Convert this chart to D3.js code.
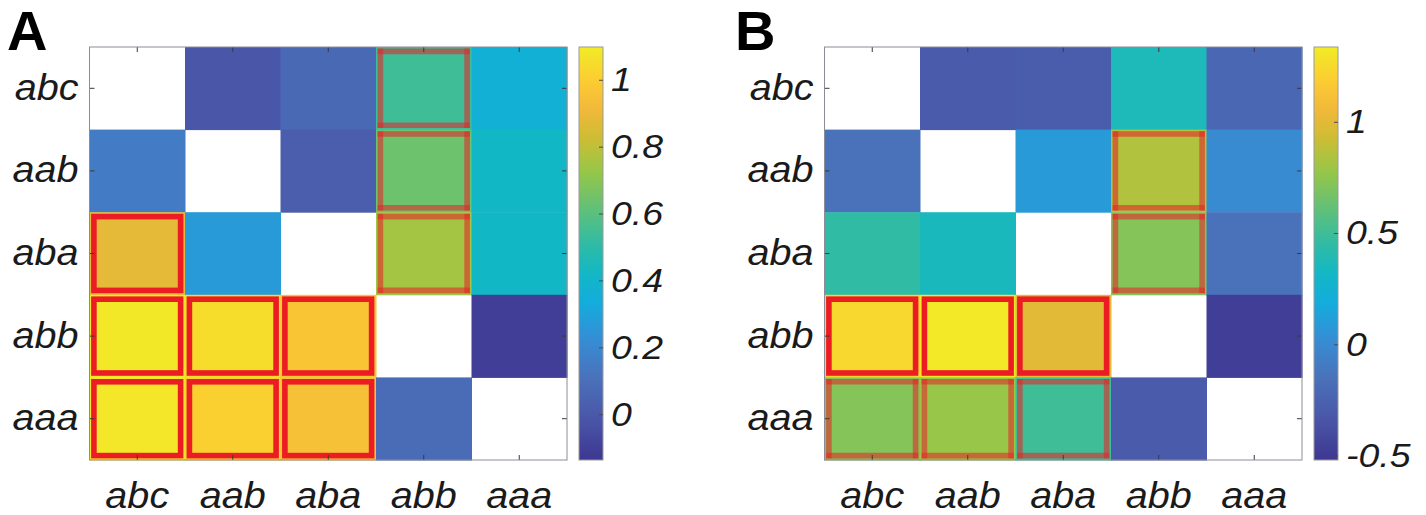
<!DOCTYPE html>
<html>
<head>
<meta charset="utf-8">
<script src="https://cdn.jsdelivr.net/npm/d3@7"></script>
<style>
  body { margin: 0; background: #fff; }
  svg { display: block; }
</style>
</head>
<body>
<div id="chart"></div>
<script>
// categories (rows top->bottom, columns left->right)
var cats = ["abc", "aab", "aba", "abb", "aaa"];

// panel A values, null = diagonal (blank)
var valsA = [
  [null, -0.01, 0.07, 0.54, 0.36],
  [0.15, null, 0.02, 0.64, 0.42],
  [0.88, 0.27, null, 0.75, 0.42],
  [1.085, 1.05, 0.97, null, -0.11],
  [1.08, 1.01, 0.95, 0.085, null]
];
// panel B values
var valsB = [
  [null, -0.30, -0.29, 0.37, -0.22],
  [-0.15, null, 0.09, 0.85, 0.0],
  [0.45, 0.35, null, 0.72, -0.15],
  [1.24, 1.32, 1.0, null, -0.48],
  [0.72, 0.78, 0.50, -0.30, null]
];
// outline marks: 0 none, 1 faint red, 2 solid red
var markA = [
  [0, 0, 0, 1, 0],
  [0, 0, 0, 1, 0],
  [2, 0, 0, 1, 0],
  [2, 2, 2, 0, 0],
  [2, 2, 2, 0, 0]
];
var markB = [
  [0, 0, 0, 0, 0],
  [0, 0, 0, 1, 0],
  [0, 0, 0, 1, 0],
  [2, 2, 2, 0, 0],
  [1, 1, 1, 0, 0]
];
var domA = [-0.137, 1.098];
var domB = [-0.52, 1.336];
var ticksA = [0, 0.2, 0.4, 0.6, 0.8, 1];
var ticksB = [-0.5, 0, 0.5, 1];

// parula-like colormap as printed
var cmapPos = [0, 0.10, 0.20, 0.30, 0.38, 0.45, 0.52, 0.60, 0.70, 0.78, 0.85, 0.91, 1];
var cmapCol = ["#3e3792", "#4a56a8", "#4a72bb", "#3390d6", "#14acdc", "#12b7c6", "#2ebba6",
               "#5cc07c", "#98c648", "#cdbd34", "#f2b83a", "#fcc934", "#f2ec26"];
var cmap = d3.scaleLinear().domain(cmapPos).range(cmapCol).interpolate(d3.interpolateRgb).clamp(true);

var W = 1426, H = 515;
var svg = d3.select("#chart").append("svg").attr("width", W).attr("height", H);

var defs = svg.append("defs");
var grad = defs.append("linearGradient").attr("id", "cbgrad")
  .attr("x1", 0).attr("y1", 1).attr("x2", 0).attr("y2", 0);
grad.selectAll("stop").data(d3.range(0, 1.0001, 0.02)).enter().append("stop")
  .attr("offset", function(d) { return d; })
  .attr("stop-color", function(d) { return cmap(d); });

var labFont = "'Liberation Sans', Arial, Helvetica, sans-serif";
var stretch = 1.1;

function stretchText(sel) {
  sel.each(function() {
    var w = this.getComputedTextLength();
    d3.select(this).attr("textLength", w * stretch).attr("lengthAdjust", "spacingAndGlyphs");
  });
}

function panel(opt) {
  var g = svg.append("g");
  var x = d3.scaleBand().domain(cats).range([opt.left, opt.left + 477.5]);
  var y = d3.scaleBand().domain(cats).range([47, 460]);
  var c = d3.scaleLinear().domain(opt.dom).range([0, 1]);

  var cells = [];
  opt.vals.forEach(function(row, i) {
    row.forEach(function(v, j) {
      cells.push({ r: cats[i], c: cats[j], v: v, m: opt.mark[i][j] });
    });
  });

  g.selectAll("rect.cell").data(cells.filter(function(d) { return d.v != null; }))
    .enter().append("rect").attr("class", "cell")
    .attr("x", function(d) { return x(d.c); })
    .attr("y", function(d) { return y(d.r); })
    .attr("width", x.bandwidth() + 0.5)
    .attr("height", y.bandwidth() + 0.5)
    .attr("fill", function(d) { return cmap(c(d.v)); });

  var ins = 4.4, sw = 5.6;
  // solid outlines
  g.selectAll("rect.sig").data(cells.filter(function(d) { return d.m == 2; }))
    .enter().append("rect").attr("class", "sig")
    .attr("x", function(d) { return x(d.c) + ins; })
    .attr("y", function(d) { return y(d.r) + ins; })
    .attr("width", x.bandwidth() - 2 * ins)
    .attr("height", y.bandwidth() - 2 * ins)
    .attr("fill", "none").attr("stroke", "#ec1c24").attr("stroke-width", sw);

  // faint outlines, four separate lines so the corners overlap darker
  cells.filter(function(d) { return d.m == 1; }).forEach(function(d) {
    var x0 = x(d.c) + ins, x1 = x(d.c) + x.bandwidth() - ins;
    var y0 = y(d.r) + ins, y1 = y(d.r) + y.bandwidth() - ins;
    var segs = [[x0, y0, x1, y0], [x1, y0, x1, y1], [x1, y1, x0, y1], [x0, y1, x0, y0]];
    g.selectAll(null).data(segs).enter().append("line")
      .attr("x1", function(s) { return s[0]; }).attr("y1", function(s) { return s[1]; })
      .attr("x2", function(s) { return s[2]; }).attr("y2", function(s) { return s[3]; })
      .attr("stroke", "#e6262a").attr("stroke-opacity", 0.58)
      .attr("stroke-width", sw).attr("stroke-linecap", "square");
  });

  // axes with inward ticks
  var yl = g.append("g").attr("transform", "translate(" + opt.left + ",0)")
    .call(d3.axisLeft(y).tickSize(-5).tickPadding(11));
  var xb = g.append("g").attr("transform", "translate(0,460)")
    .call(d3.axisBottom(x).tickSize(-5).tickPadding(22));
  var xt = g.append("g").attr("transform", "translate(0,47)")
    .call(d3.axisTop(x).tickSize(-5).tickFormat(""));
  var yr = g.append("g").attr("transform", "translate(" + (opt.left + 477.5) + ",0)")
    .call(d3.axisRight(y).tickSize(-5).tickFormat(""));
  [yl, xb, xt, yr].forEach(function(a) {
    a.select(".domain").remove();
    a.selectAll("line").attr("stroke", "#3a3a3a").attr("stroke-width", 1);
  });
  [yl, xb].forEach(function(a) {
    a.selectAll("text").attr("font-family", labFont).attr("font-style", "italic")
      .attr("font-size", 36).attr("fill", "#1a1a1a");
  });
  xb.selectAll("text").attr("dy", "0.71em");
  stretchText(yl.selectAll("text"));
  stretchText(xb.selectAll("text"));

  g.append("rect").attr("x", opt.left).attr("y", 47)
    .attr("width", 477.5).attr("height", 413)
    .attr("fill", "none").attr("stroke", "#8c8c98").attr("stroke-width", 1);

  // colorbar
  var cbx = opt.left + 489.5, cbw = 24;
  var cy = d3.scaleLinear().domain(opt.dom).range([460, 47]);
  g.append("rect").attr("x", cbx).attr("y", 47).attr("width", cbw).attr("height", 413)
    .attr("fill", "url(#cbgrad)").attr("stroke", "#9a9a9a").attr("stroke-width", 1);
  var ca = g.append("g").attr("transform", "translate(" + (cbx + cbw) + ",0)")
    .call(d3.axisRight(cy).tickValues(opt.ticks).tickSize(-4).tickPadding(8)
      .tickFormat(function(d) { return String(d); }));
  ca.select(".domain").remove();
  ca.selectAll("line").attr("stroke", "#4a4a4a");
  ca.selectAll("text").attr("font-family", labFont).attr("font-style", "italic")
    .attr("font-size", 34).attr("fill", "#1a1a1a");
  stretchText(ca.selectAll("text"));

  svg.append("text").attr("x", opt.lx).attr("y", 50)
    .attr("font-family", labFont).attr("font-weight", "bold")
    .attr("font-size", 56).attr("fill", "#000").text(opt.letter);
}

panel({ left: 89.5, vals: valsA, mark: markA, dom: domA, ticks: ticksA, letter: "A", lx: 7 });
panel({ left: 824.5, vals: valsB, mark: markB, dom: domB, ticks: ticksB, letter: "B", lx: 735 });
</script>
</body>
</html>
